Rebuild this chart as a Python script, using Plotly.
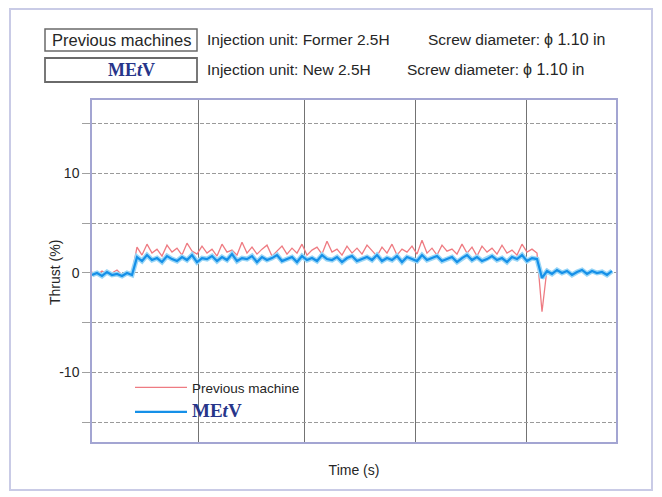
import plotly.graph_objects as go

# Sample times (s)
time_s = [0.00, 0.05, 0.10, 0.15, 0.20, 0.25, 0.30, 0.35, 0.40, 0.45,
          0.50, 0.55, 0.60, 0.65, 0.70, 0.75, 0.80, 0.85, 0.90, 0.95,
          1.00, 1.05, 1.10, 1.15, 1.20, 1.25, 1.30, 1.35, 1.40, 1.45,
          1.50, 1.55, 1.60, 1.65, 1.70, 1.75, 1.80, 1.85, 1.90, 1.95,
          2.00, 2.05, 2.10, 2.15, 2.20, 2.25, 2.30, 2.35, 2.40, 2.45,
          2.50, 2.55, 2.60, 2.65, 2.70, 2.75, 2.80, 2.85, 2.90, 2.95,
          3.00, 3.05, 3.10, 3.15, 3.20, 3.25, 3.30, 3.35, 3.40, 3.45,
          3.50, 3.55, 3.60, 3.65, 3.70, 3.75, 3.80, 3.85, 3.90, 3.95,
          4.00, 4.05, 4.10, 4.15, 4.20, 4.25, 4.30, 4.35, 4.40, 4.45,
          4.50, 4.55, 4.60, 4.65, 4.70, 4.75, 4.80, 4.85, 4.90, 4.95,
          5.00, 5.05, 5.10, 5.15, 5.20]

# Thrust (%) - previous machine
thrust_previous = [0.1, -0.2, 0.2, -0.1, 0.0, 0.3, -0.2, 0.1, 0.0,
                   2.6, 1.8, 2.9, 2.0, 2.4, 1.7, 2.8, 2.1, 2.5, 1.8,
                   3.0, 2.2, 1.9, 2.7, 2.0, 2.4, 1.7, 2.9, 2.1, 2.3,
                   1.8, 3.1, 2.0, 2.6, 1.9, 2.4, 2.8, 1.7, 2.2, 2.7,
                   1.9, 2.5, 2.0, 2.9, 1.8, 2.3, 2.6, 1.9, 3.2, 2.1,
                   2.4, 1.8, 2.7, 2.0, 2.5, 1.9, 2.8, 2.2, 1.7, 2.6,
                   2.0, 2.9, 1.8, 2.4, 2.1, 2.7, 1.9, 3.3, 2.0, 2.5,
                   1.8, 2.8, 2.2, 2.4, 1.9, 2.9, 2.0, 2.6, 1.7, 2.7,
                   2.1, 2.5, 1.9, 2.8, 2.0, 2.3, 1.8, 2.9, 2.1, 2.4,
                   2.0,
                   -3.9,
                   0.4, -0.1, 0.2, 0.0, 0.3, -0.1, 0.1, 0.2, -0.2, 0.1, 0.0, 0.2, -0.1, 0.1]

# Thrust (%) - MEtV
thrust_metv = [-0.2, 0.0, -0.3, 0.1, -0.2, -0.1, -0.3, 0.0, -0.2,
               1.6, 1.2, 1.8, 1.3, 1.5, 1.1, 1.7, 1.4, 1.2, 1.6,
               1.3, 1.8, 1.1, 1.5, 1.4, 1.7, 1.2, 1.6, 1.3, 1.9,
               1.2, 1.5, 1.4, 1.7, 1.1, 1.6, 1.3, 1.5, 1.8, 1.2,
               1.4, 1.6, 1.1, 1.7, 1.3, 1.5, 1.2, 1.8, 1.4, 1.3,
               1.6, 1.1, 1.5, 1.7, 1.2, 1.4, 1.6, 1.3, 1.8, 1.2,
               1.5, 1.3, 1.7, 1.1, 1.6, 1.4, 1.2, 1.8, 1.3, 1.5,
               1.7, 1.2, 1.4, 1.6, 1.1, 1.5, 1.8, 1.3, 1.6, 1.2,
               1.4, 1.7, 1.3, 1.5, 1.1, 1.6, 1.4, 1.8, 1.2, 1.5,
               1.4,
               -0.5,
               0.2, -0.1, 0.3, 0.0, 0.2, -0.2, 0.1, 0.3, -0.1, 0.2, 0.0, 0.1, -0.2, 0.2]

x_grid = [1.06, 2.12, 3.23, 4.34]
y_ticks = [-15, -10, -5, 0, 5, 10, 15]
y_tick_labels = ["", "-10", "", "0", "", "10", ""]

METV_LABEL = ("<span style='font-family:Liberation Serif;font-size:19px;color:#27358a'>"
              "<b>ME<i>t</i>V</b></span>")

TXT = "#262626"
SANS = "Liberation Sans"

fig = go.Figure()
fig.add_trace(go.Scatter(x=time_s, y=thrust_previous, mode="lines",
                         name="Previous machine", legendgroup="prev",
                         line=dict(color="#ee7b82", width=1.3)))
# soft halo under the MEtV trace (scan bleed)
fig.add_trace(go.Scatter(x=time_s, y=thrust_metv, mode="lines",
                         name="MEtV halo", showlegend=False, hoverinfo="skip",
                         line=dict(color="#9ad6f7", width=5)))
fig.add_trace(go.Scatter(x=time_s, y=thrust_metv, mode="lines",
                         name=METV_LABEL, legendgroup="metv",
                         line=dict(color="#1590e8", width=2.2)))

# page body has an 8px margin, so the figure origin sits at window (8, 8)
OFF = 8
W, H = 662 - OFF, 497 - OFF
L, R, T, B = 92 - OFF, 616 - OFF, 100 - OFF, 442 - OFF


def px(x):
    return (x - OFF - L) / (R - L)


def py(y):
    return (B - (y - OFF)) / (B - T)


shapes = [
    # outer frame
    dict(type="rect", xref="paper", yref="paper", x0=px(10), x1=px(652), y0=py(490), y1=py(9),
         line=dict(color="#c9cbe6", width=2), layer="below"),
    # header boxes
    dict(type="rect", xref="paper", yref="paper", x0=px(45), x1=px(197), y0=py(51), y1=py(29),
         line=dict(color="#6a6a6a", width=1.5)),
    dict(type="rect", xref="paper", yref="paper", x0=px(45), x1=px(197), y0=py(82), y1=py(58),
         line=dict(color="#6a6a6a", width=1.8)),
    # white legend panel hiding gridlines behind the legend
    dict(type="rect", xref="paper", yref="paper", x0=px(122), x1=px(318), y0=py(428), y1=py(366),
         fillcolor="white", line=dict(width=0), layer="between"),
]


def label(text, x, y, size=15.5, anchor="left", family=SANS, color=TXT, angle=0):
    return dict(text=text, x=px(x), y=py(y), xref="paper", yref="paper",
                showarrow=False, xanchor=anchor, yanchor="middle", textangle=angle,
                font=dict(family=family, size=size, color=color))


annotations = [
    label("Previous machines", 121, 40, size=16.5, anchor="center"),
    label("<b>ME<i>t</i>V</b>", 131, 70, size=18, anchor="center",
          family="Liberation Serif", color="#27358a"),
    label("Injection unit: Former 2.5H", 205, 40),
    label("Screw diameter:", 426, 40),
    label("ϕ 1.10 in", 542, 40, size=16),
    label("Injection unit: New 2.5H", 205, 70),
    label("Screw diameter:", 405, 70),
    label("ϕ 1.10 in", 521, 70, size=16),
    label("Thrust (%)", 55, 273, size=14, anchor="center", angle=-90),
]

fig.update_layout(
    width=W, height=H,
    margin=dict(l=L, r=W - R, t=T, b=H - B, autoexpand=False),
    paper_bgcolor="white", plot_bgcolor="white",
    font=dict(family=SANS, size=13, color=TXT),
    shapes=shapes,
    annotations=annotations,
    showlegend=True,
    legend=dict(x=px(130), y=py(372), xanchor="left", yanchor="top",
                bgcolor="rgba(0,0,0,0)", borderwidth=0, itemwidth=52,
                font=dict(family=SANS, size=13.5, color=TXT),
                tracegroupgap=4, traceorder="grouped"),
    xaxis=dict(range=[0, 5.24], tickvals=x_grid, showticklabels=False,
               showgrid=True, gridcolor="#737373", gridwidth=1.3,
               showline=True, linecolor="#a3a5d2", linewidth=1.5, mirror=True,
               zeroline=False, ticks="",
               title=dict(text="Time (s)", standoff=22,
                          font=dict(family=SANS, size=14, color=TXT))),
    yaxis=dict(range=[-17.0, 17.4], tickvals=y_ticks, ticktext=y_tick_labels,
               showgrid=True, gridcolor="#9a9a9a", gridwidth=1, griddash="4px,2px",
               showline=True, linecolor="#a3a5d2", linewidth=1.5, mirror=True,
               zeroline=False, ticks="outside", ticklen=8, tickcolor="#a0a0a0",
               tickfont=dict(family=SANS, size=14, color=TXT)),
)

fig.write_html("out.html")
